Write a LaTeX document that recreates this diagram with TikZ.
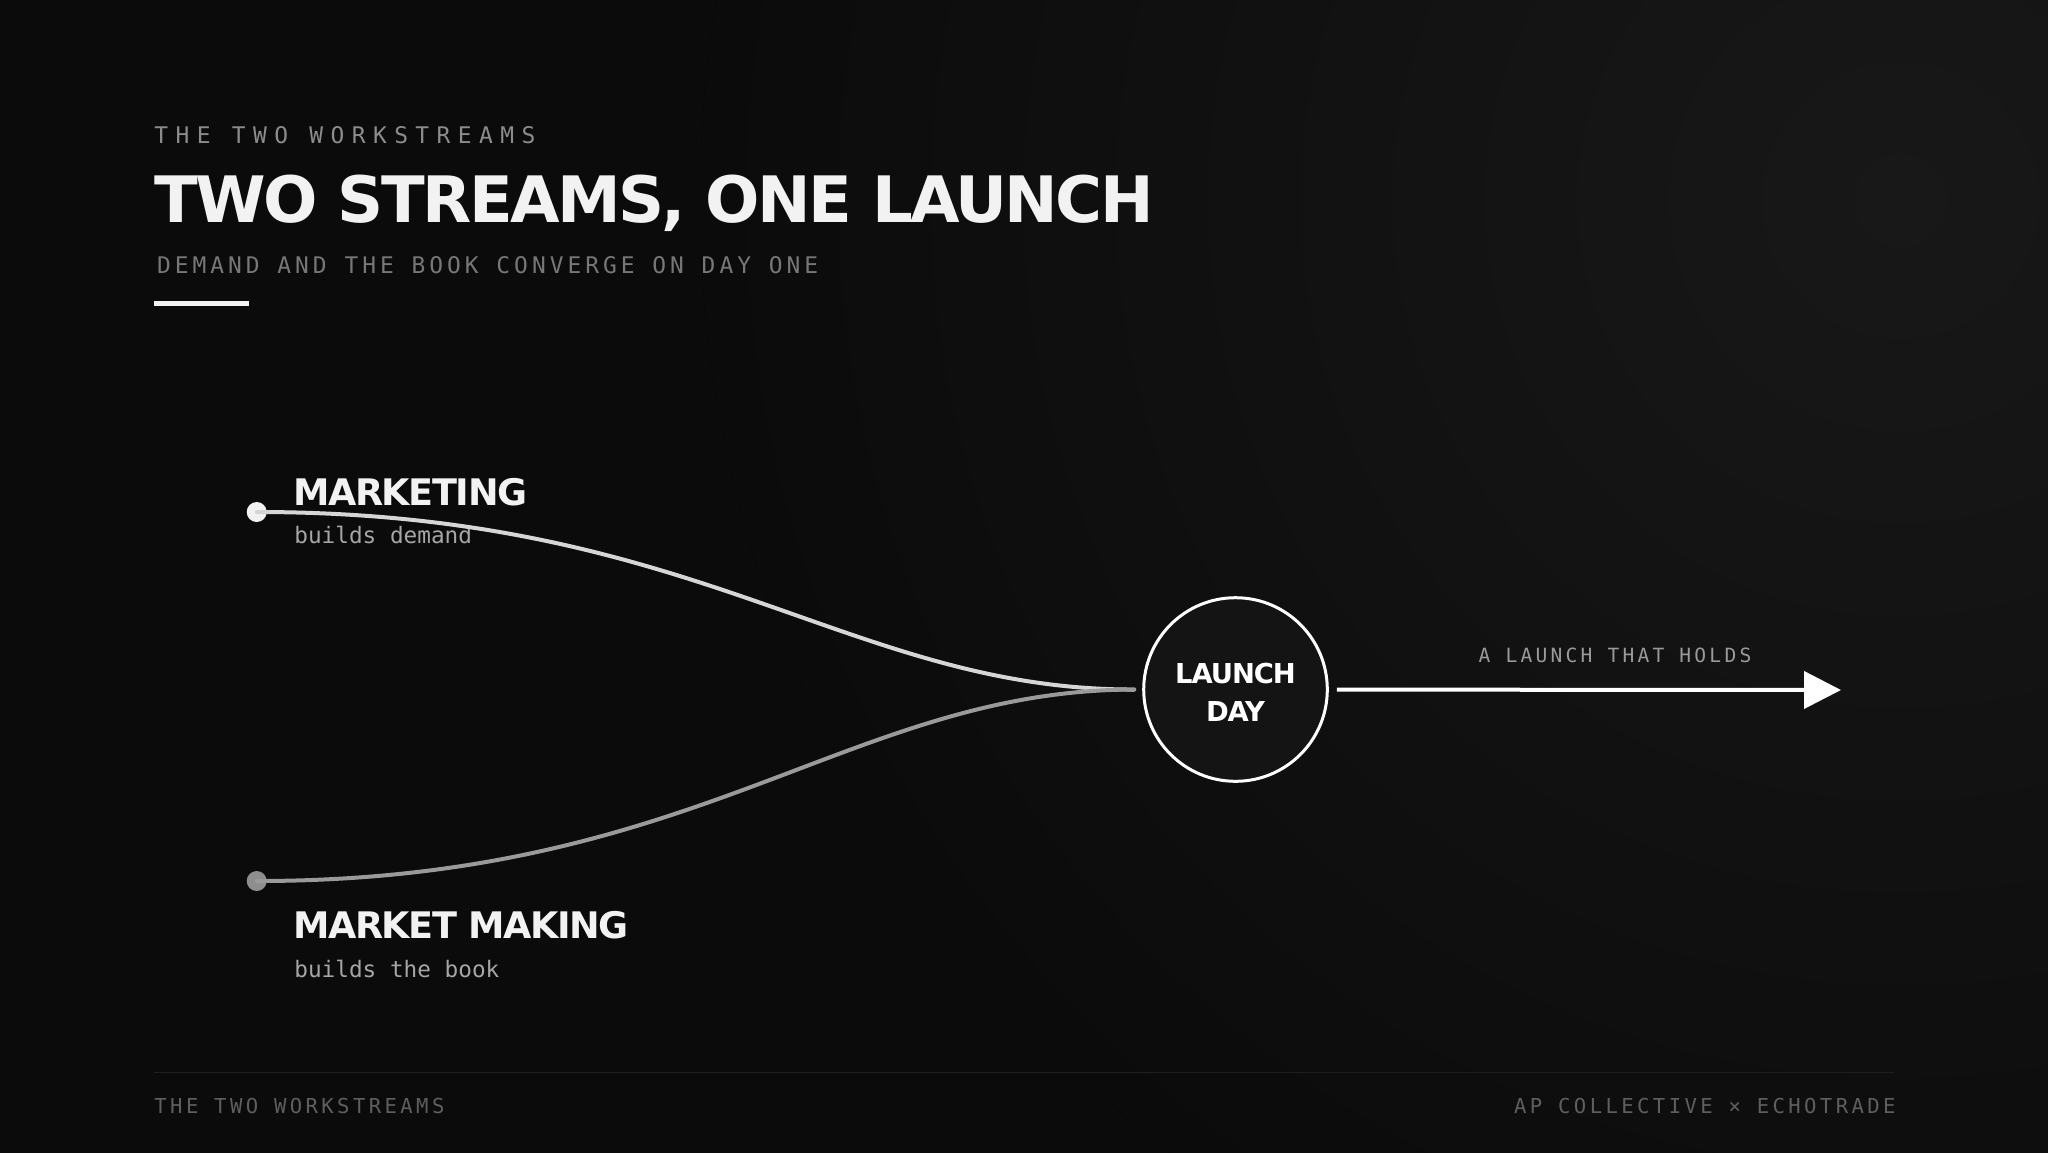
\documentclass[tikz,border=0pt]{standalone}
\usepackage{fontspec}
\setmainfont{DejaVu Sans}
\newfontfamily\fontHead[LetterSpace=-4]{DejaVu Sans}
\newfontfamily\fontCode{DejaVu Sans Mono}
\newfontfamily\fontKicker[LetterSpace=32.5]{DejaVu Sans Mono}
\newfontfamily\fontTrack[LetterSpace=17.4]{DejaVu Sans Mono}
\newfontfamily\fontFoot[LetterSpace=16.5]{DejaVu Sans Mono}
\usetikzlibrary{arrows.meta}

\definecolor{bg}{HTML}{0B0B0B}
\definecolor{glow}{HTML}{181818}
\definecolor{kicker}{HTML}{8C8C8C}
\definecolor{subgray}{HTML}{777777}
\definecolor{ink}{HTML}{F2F2F2}
\definecolor{codegray}{HTML}{A6A6A6}
\definecolor{labelgray}{HTML}{9A9A9A}
\definecolor{footgray}{HTML}{5E5E5E}
\definecolor{footline}{HTML}{1F1F1F}
\definecolor{mkline}{HTML}{D6D6D6}
\definecolor{mmline}{HTML}{9A9A9A}
\definecolor{mmdot}{HTML}{8E8E8E}
\definecolor{disc}{HTML}{141414}

\begin{document}
\begin{tikzpicture}[x=0.5pt,y=-0.5pt,
	txt/.style={inner sep=0pt,anchor=base west},
	dot/.style={circle,inner sep=0pt,minimum size=10pt},
	stream/.style={line width=2pt,line cap=round,shorten >=4pt},
	]
					%FOND
					\useasboundingbox (0,0) rectangle (2048,1152);
					\fill[bg] (-20,-20) rectangle (2068,1172);
					\begin{scope}
						\clip (-20,-20) rectangle (2068,1172);
						\fill[inner color=glow,outer color=bg] (1900,200) circle (600pt);
					\end{scope}
					
					%TITRE
					\node[txt,text=kicker] (kick) at (154,143) {\fontsize{11.45}{14}\fontKicker THE TWO WORKSTREAMS};
					\node[txt,text=ink] (title) at (154,222) {\fontsize{32}{38}\fontHead\bfseries TWO STREAMS, ONE LAUNCH};
					\node[txt,text=subgray] (sub) at (156.6,273) {\fontsize{11.45}{14}\fontTrack DEMAND AND THE BOOK CONVERGE ON DAY ONE};
					\draw[ink,line width=2.5pt] (154,303) -- (249,303);
					
					%MARKETING
					\node[dot,fill=ink] (mk) at (256.7,512) {};
					\node[txt,text=ink] (mkname) at (293,505) {\fontsize{18.3}{22}\fontHead\bfseries MARKETING};
					\node[txt,text=codegray] (mknote) at (294,543) {\fontsize{11.35}{14}\fontCode builds demand};
					
					%MARKET MAKING
					\node[dot,fill=mmdot] (mm) at (256.7,881) {};
					\node[txt,text=ink] (mmname) at (293,938) {\fontsize{18.3}{22}\fontHead\bfseries MARKET MAKING};
					\node[txt,text=codegray] (mmnote) at (294,977) {\fontsize{11.35}{14}\fontCode builds the book};
					
					%LAUNCH DAY
					\node[circle,draw=white,line width=1.5pt,fill=disc,minimum size=91.8pt,inner sep=0pt,text height=32.2pt,
						align=center,text=white,font=\fontsize{13.7}{19.2}\fontHead\bfseries] (launch) at (1235.5,689.5) {LAUNCH\\DAY};
					
					%COURBES
					\draw[stream,mkline] (mk.center) .. controls (700,512) and (850,690) .. (launch.west);
					\draw[stream,mmline] (mm.center) .. controls (700,881) and (850,690) .. (launch.west);
					
					%FLECHE
					\coordinate (goal) at (1841,690);
					\draw[white,line width=2pt,shorten <=4pt,-{Triangle[length=18.5pt,width=18.5pt]}] (launch) -- (goal);
					\node[inner sep=0pt,anchor=base,text=labelgray] (holds) at (1615,662.7) {\fontsize{9.8}{12}\fontFoot A LAUNCH THAT HOLDS};
					
					%PIED
					\draw[footline,line width=0.5pt] (154,1072) -- (1894,1072);
					\node[txt,text=footgray] (footl) at (154,1113) {\fontsize{10.3}{12}\fontFoot THE TWO WORKSTREAMS};
					\node[inner sep=0pt,anchor=base east,text=footgray] (footr) at (1896,1113) {\fontsize{10.3}{12}\fontFoot AP COLLECTIVE × ECHOTRADE};
					
\end{tikzpicture}
\end{document}
